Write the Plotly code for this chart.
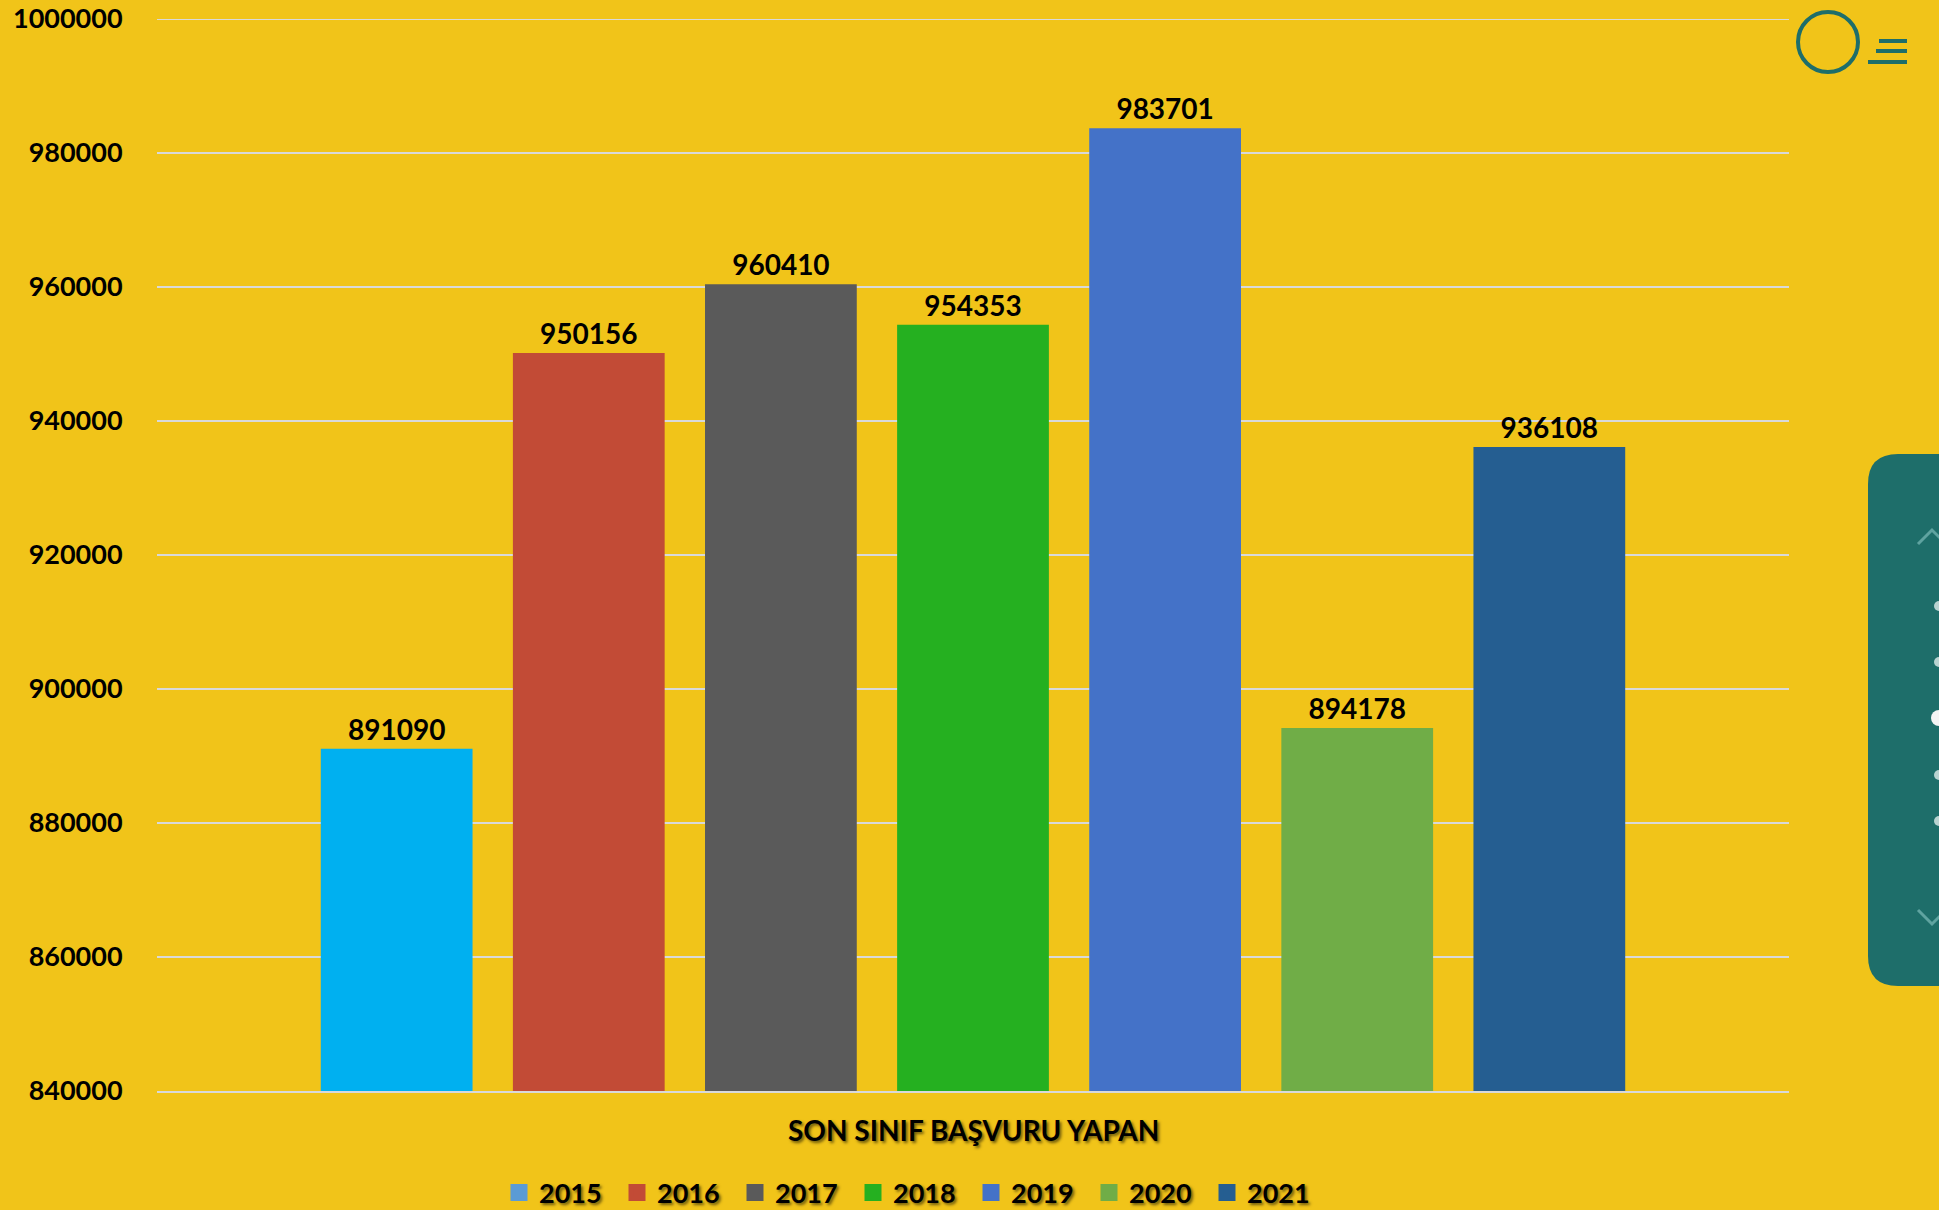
import plotly.graph_objects as go

category = ["SON SINIF BAŞVURU YAPAN"]
years = ["2015", "2016", "2017", "2018", "2019", "2020", "2021"]
values = [891090, 950156, 960410, 954353, 983701, 894178, 936108]
colors = ["#00B0F0", "#C24B36", "#5A5A5A", "#25B020", "#4472C8", "#70AD47", "#255E91"]
legend_colors = ["#5B9BD5", "#C24B36", "#5A5A5A", "#25B020", "#4472C8", "#70AD47", "#255E91"]
y_ticks = [840000, 860000, 880000, 900000, 920000, 940000, 960000, 980000, 1000000]

W, H = 1939, 1210
L, R, T, B = 157, 150, 19, 119
PW, PH = W - L - R, H - T - B

def px(x):
    return (x - L) / PW

def py(y):
    return (H - B - y) / PH

FONT = "Lato"
shadow = "2px 2px 3px rgba(0,0,0,0.55)"

fig = go.Figure()
for yr, v, c in zip(years, values, colors):
    fig.add_trace(go.Bar(
        name=yr, x=category, y=[v], showlegend=False,
        marker=dict(color=c, line=dict(width=0)),
        text=[str(v)], textposition="outside", cliponaxis=False,
        textfont=dict(family=FONT, size=28, color="#000000", weight="bold"),
    ))
# legend entries (same series names, legend swatch colours as in the original legend)
for yr, c in zip(years, legend_colors):
    fig.add_trace(go.Bar(
        name=yr, x=[None], y=[None], xaxis="x2", yaxis="y2", showlegend=True,
        marker=dict(color=c, line=dict(width=5, color=c)), hoverinfo="skip",
    ))

teal = "#1E6E6A"
shapes = [
    dict(type="line", xref="paper", yref="y", x0=0, x1=1, y0=y_ticks[-1], y1=y_ticks[-1],
         line=dict(color="#D9D9D9", width=2), layer="below"),
    dict(type="path", xref="paper", yref="paper", layer="above",
         path=(f"M {px(1898)} {py(454)} L {px(1960)} {py(454)} L {px(1960)} {py(986)} "
               f"L {px(1898)} {py(986)} Q {px(1868)} {py(986)} {px(1868)} {py(956)} "
               f"L {px(1868)} {py(484)} Q {px(1868)} {py(454)} {px(1898)} {py(454)} Z"),
         fillcolor=teal, line=dict(width=0)),
    dict(type="circle", xref="paper", yref="paper", x0=px(1798), x1=px(1858), y0=py(72), y1=py(12),
         line=dict(color=teal, width=4), fillcolor="rgba(0,0,0,0)"),
    dict(type="line", xref="paper", yref="paper", x0=px(1879), x1=px(1907), y0=py(41), y1=py(41),
         line=dict(color=teal, width=4)),
    dict(type="line", xref="paper", yref="paper", x0=px(1876), x1=px(1907), y0=py(51), y1=py(51),
         line=dict(color=teal, width=4)),
    dict(type="line", xref="paper", yref="paper", x0=px(1868), x1=px(1907), y0=py(62), y1=py(62),
         line=dict(color=teal, width=4)),
    dict(type="path", xref="paper", yref="paper",
         path=f"M {px(1918)} {py(544)} L {px(1932)} {py(530)} L {px(1946)} {py(544)}",
         line=dict(color="#5FA3A0", width=3)),
    dict(type="path", xref="paper", yref="paper",
         path=f"M {px(1918)} {py(910)} L {px(1932)} {py(924)} L {px(1946)} {py(910)}",
         line=dict(color="#5FA3A0", width=3)),
]
for yy, r, col in [(606, 5, "#B9D3D1"), (662, 5, "#B9D3D1"), (718, 8, "#F4F4F4"),
                   (775, 5, "#B9D3D1"), (821, 5, "#B9D3D1")]:
    shapes.append(dict(type="circle", xref="paper", yref="paper",
                       x0=px(1939 - r), x1=px(1939 + r), y0=py(yy + r), y1=py(yy - r),
                       fillcolor=col, line=dict(width=0)))

fig.update_layout(
    width=W, height=H,
    margin=dict(l=L, r=R, t=T, b=B, pad=0, autoexpand=False),
    paper_bgcolor="#F1C419", plot_bgcolor="rgba(0,0,0,0)",
    barmode="group", bargap=0.176, bargroupgap=0.21,
    showlegend=True,
    legend=dict(orientation="h", x=px(912), xanchor="center", y=py(1193), yanchor="middle",
                font=dict(family=FONT, size=27, color="#000000", weight="bold", shadow=shadow),
                bgcolor="rgba(0,0,0,0)", itemclick=False, traceorder="normal",
                entrywidth=73, entrywidthmode="pixels"),
    xaxis=dict(showticklabels=False, showgrid=False, showline=True, linecolor="#D9D9D9",
               linewidth=2, ticks="", zeroline=False),
    yaxis=dict(range=[840000, 1000000], tickvals=y_ticks, ticktext=[str(t) for t in y_ticks],
               showgrid=True, gridcolor="#D9D9D9", gridwidth=2, zeroline=False,
               ticks="outside", ticklen=28, tickcolor="rgba(0,0,0,0)", showline=False,
               tickfont=dict(family=FONT, size=27, color="#000000", weight="bold")),
    xaxis2=dict(overlaying="x", visible=False),
    yaxis2=dict(overlaying="y", visible=False),
    annotations=[dict(text="SON SINIF BAŞVURU YAPAN", xref="paper", yref="paper",
                      x=0.5, y=py(1130), xanchor="center", yanchor="middle", showarrow=False,
                      font=dict(family=FONT, size=28, color="#000000", weight="bold", shadow=shadow))],
    shapes=shapes,
)

fig.write_html("out.html", config={"displayModeBar": False},
               post_script="document.body.style.margin='0';document.body.style.overflow='hidden';")
